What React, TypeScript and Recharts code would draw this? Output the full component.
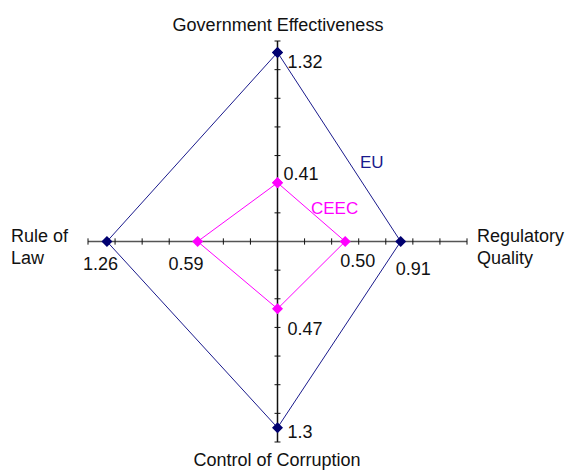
import React from 'react';
import {
  ReferenceLine,
  Scatter,
  ScatterChart,
  XAxis,
  YAxis,
  LabelList,
} from 'recharts';

const AXES = ['Government Effectiveness', 'Regulatory Quality', 'Control of Corruption', 'Rule of Law'];
const EU_VALUES = [1.32, 0.91, 1.3, 1.26];
const EU_LABELS = ['1.32', '0.91', '1.3', '1.26'];
const CEEC_VALUES = [0.41, 0.5, 0.47, 0.59];
const CEEC_LABELS = ['0.41', '0.50', '0.47', '0.59'];
const TICKS = [-1.4, -1.2, -1, -0.8, -0.6, -0.4, -0.2, 0.2, 0.4, 0.6, 0.8, 1, 1.2, 1.4];

const FONT = '"Liberation Sans", Arial, sans-serif';
const EU_COLOUR = '#1a1a8c';
const CEEC_COLOUR = '#ff00ff';

// top, right, bottom, left -> closed polygon
const DIRS = [
  [0, 1],
  [1, 0],
  [0, -1],
  [-1, 0],
];

function toPoints(values: number[], labels: string[]) {
  const pts = values.map((v, i) => ({ x: DIRS[i][0] * v, y: DIRS[i][1] * v, label: labels[i] }));
  return [...pts, { ...pts[0], label: '' }];
}

const euData = toPoints(EU_VALUES, EU_LABELS);
const ceecData = toPoints(CEEC_VALUES, CEEC_LABELS);

const Diamond = (colour: string) => (props: any) => {
  const { cx, cy } = props;
  const r = 5.5;
  return (
    <polygon
      points={`${cx},${cy - r} ${cx + r},${cy} ${cx},${cy + r} ${cx - r},${cy}`}
      fill={colour}
    />
  );
};

// label offsets per direction (dx, dy, anchor)
const EU_OFFSETS = [
  [10, 16, 'start'],
  [-5, 33, 'start'],
  [10, 10, 'start'],
  [11, 28, 'end'],
];
const CEEC_OFFSETS = [
  [6, -3, 'start'],
  [-5, 25, 'start'],
  [10, 26, 'start'],
  [6, 28, 'end'],
];

const valueLabel = (offsets: any[]) => (props: any) => {
  const { x, y, width, height, value, index } = props;
  if (!value || index > 3) return null;
  const cx = x + (width || 0) / 2;
  const cy = y + (height || 0) / 2;
  const [dx, dy, anchor] = offsets[index];
  return (
    <text x={cx + dx} y={cy + dy} textAnchor={anchor} fontSize={18} fontFamily={FONT} fill="#111">
      {value}
    </text>
  );
};

export default function App() {
  const tickY = 0.022;
  const tickX = 0.022;
  return (
    <div style={{ position: 'absolute', left: 0, top: 0, background: '#fff' }}>
      <ScatterChart width={567} height={471} margin={{ top: 41, right: 100, bottom: 29, left: 88 }}>
        <XAxis type="number" dataKey="x" domain={[-1.4, 1.4]} hide />
        <YAxis type="number" dataKey="y" domain={[-1.4, 1.4]} hide />
        <ReferenceLine y={0} stroke="#555" strokeWidth={1.5} />
        <ReferenceLine x={0} stroke="#111" strokeWidth={1.5} />
        {TICKS.map((t) => (
          <ReferenceLine
            key={'h' + t}
            segment={[
              { x: t, y: -tickY },
              { x: t, y: tickY },
            ]}
            stroke="#111"
          />
        ))}
        {TICKS.map((t) => (
          <ReferenceLine
            key={'v' + t}
            segment={[
              { x: -tickX, y: t },
              { x: tickX, y: t },
            ]}
            stroke="#111"
          />
        ))}
        <Scatter
          data={euData}
          line={{ stroke: EU_COLOUR, strokeWidth: 1 }}
          lineType="joint"
          shape={Diamond('#000070')}
          isAnimationActive={false}
        >
          <LabelList dataKey="label" content={valueLabel(EU_OFFSETS)} />
        </Scatter>
        <Scatter
          data={ceecData}
          line={{ stroke: CEEC_COLOUR, strokeWidth: 1 }}
          lineType="joint"
          shape={Diamond(CEEC_COLOUR)}
          isAnimationActive={false}
        >
          <LabelList dataKey="label" content={valueLabel(CEEC_OFFSETS)} />
        </Scatter>
        <text x={278} y={31} textAnchor="middle" fontSize={18} fontFamily={FONT} fill="#111">
          {AXES[0]}
        </text>
        <text x={477} y={242} fontSize={18} fontFamily={FONT} fill="#111">
          <tspan x={477} dy={0}>Regulatory</tspan>
          <tspan x={477} dy={22}>Quality</tspan>
        </text>
        <text x={277} y={466} textAnchor="middle" fontSize={18} fontFamily={FONT} fill="#111">
          {AXES[2]}
        </text>
        <text x={11} y={242} fontSize={18} fontFamily={FONT} fill="#111">
          <tspan x={11} dy={0}>Rule of</tspan>
          <tspan x={11} dy={22}>Law</tspan>
        </text>
        <text x={360} y={168} fontSize={17} fontFamily={FONT} fill={EU_COLOUR}>
          EU
        </text>
        <text x={311} y={214} fontSize={17} fontFamily={FONT} fill={CEEC_COLOUR}>
          CEEC
        </text>
      </ScatterChart>
    </div>
  );
}
